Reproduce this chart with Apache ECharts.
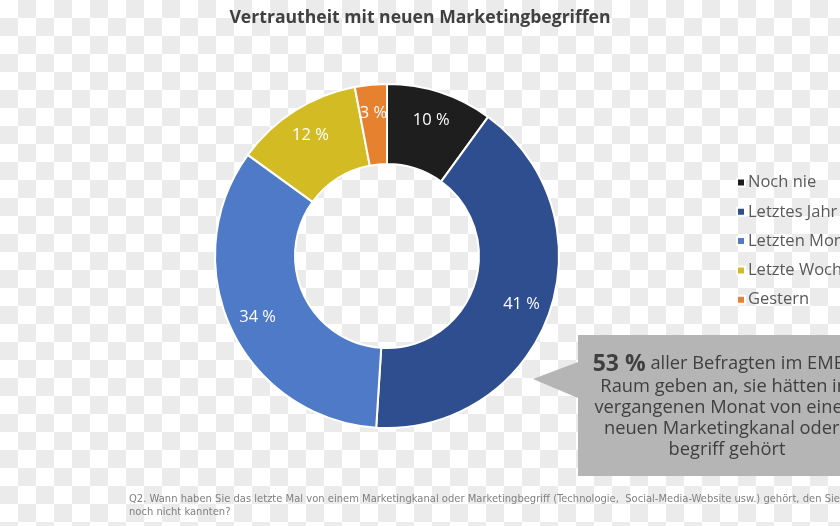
<!DOCTYPE html>
<html>
<head>
<meta charset="utf-8">
<script src="https://cdn.jsdelivr.net/npm/echarts@6/dist/echarts.min.js"></script>
<style>
html,body{margin:0;padding:0;}
#chart{width:840px;height:526px;background-color:#fff;
background-image:repeating-conic-gradient(#ebebeb 0 25%, #ffffff 0 50%);
background-size:36px 36px;background-position:0 0;}
</style>
</head>
<body>
<div id="chart"></div>
<script>
const categories = ['Noch nie', 'Letztes Jahr', 'Letzten Monat', 'Letzte Woche', 'Gestern'];
const values = [10, 41, 34, 12, 3];
const colors = ['#1e1e1e', '#2e4e8f', '#4e7ac7', '#d3bc23', '#e6812f'];
const titleText = 'Vertrautheit mit neuen Marketingbegriffen';
const calloutLines = ['{b|53 %} aller Befragten im EMEA-', 'Raum geben an, sie hätten im', 'vergangenen Monat von einem', 'neuen Marketingkanal oder -', 'begriff gehört'];
const footnote = 'Q2. Wann haben Sie das letzte Mal von einem Marketingkanal oder Marketingbegriff (Technologie,  Social-Media-Website usw.) gehört, den Sie\nnoch nicht kannten?';

const data = categories.map((c, i) => ({name: c, value: values[i], itemStyle: {color: colors[i]}}));
const labelData = categories.map((c, i) => ({name: c, value: values[i]}));

const chart = echarts.init(document.getElementById('chart'), null, {renderer: 'canvas'});
chart.setOption({
  backgroundColor: 'transparent',
  animation: false,
  title: {
    text: titleText, left: 'center', top: 4,
    textStyle: {fontFamily: 'Open Sans', fontWeight: 'bold', fontSize: 17.6, color: '#404040'}
  },
  legend: {
    orient: 'vertical', left: 731, top: 169,
    data: categories,
    icon: 'rect', itemWidth: 8, itemHeight: 8, itemGap: 12.3,
    textStyle: {fontFamily: 'Open Sans', fontSize: 16.5, color: '#595959', lineHeight: 16, padding: [0, 0, 0, -2]}
  },
  series: [
    {
      type: 'pie', radius: [92, 172], center: [387, 256], startAngle: 90, clockwise: true,
      data: data, label: {show: false}, labelLine: {show: false},
      itemStyle: {borderColor: '#ffffff', borderWidth: 2},
      emphasis: {disabled: true}, silent: true
    },
    {
      type: 'pie', radius: [108, 172], center: [387, 256], startAngle: 90, clockwise: true,
      data: labelData, silent: true, legendHoverLink: false,
      itemStyle: {color: 'rgba(0,0,0,0)'},
      emphasis: {disabled: true},
      label: {show: true, position: 'inside', formatter: '{c} %', color: '#ffffff',
        fontFamily: 'Open Sans', fontSize: 16.5},
      labelLine: {show: false}
    }
  ],
  graphic: [
    {
      type: 'polygon',
      shape: {points: [[578, 335], [870, 335], [870, 476], [578, 476], [578, 398], [533, 379], [578, 362]]},
      style: {fill: '#b5b5b5'}, silent: true
    },
    {
      type: 'text', x: 727, y: 352,
      style: {
        text: calloutLines.join('\n'),
        align: 'center', verticalAlign: 'top',
        fontFamily: 'Open Sans', fontSize: 18.3, lineHeight: 21, fill: '#3f3f3f',
        rich: {b: {fontFamily: 'Open Sans', fontSize: 23, fontWeight: 'bold', fill: '#3f3f3f', lineHeight: 24}}
      }, silent: true
    },
    {
      type: 'text', x: 129, y: 492,
      style: {
        text: footnote, fontFamily: 'DejaVu Sans Condensed, Liberation Sans', fontSize: 11.1, lineHeight: 13.5,
        fill: '#808080', align: 'left', verticalAlign: 'top'
      }, silent: true
    }
  ]
});
</script>
</body>
</html>
